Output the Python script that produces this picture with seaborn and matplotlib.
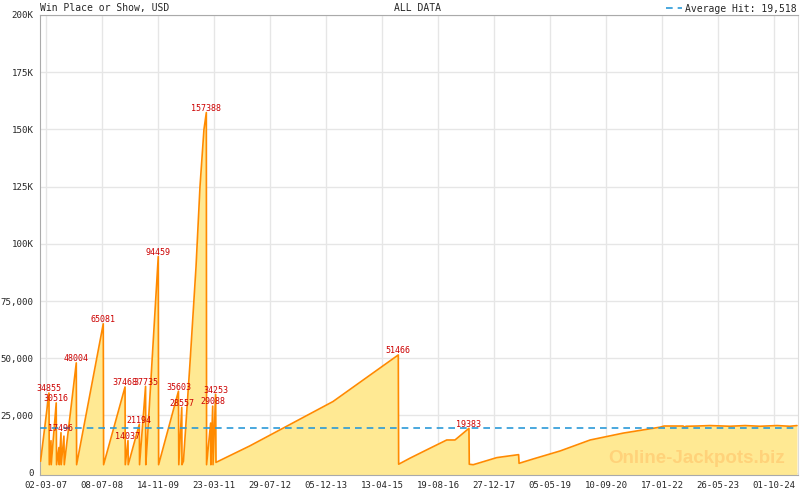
import pandas as pd
import matplotlib
matplotlib.use("Agg")
import matplotlib.pyplot as plt
import matplotlib.dates as mdates
import matplotlib.ticker as mticker
import seaborn as sns

# jackpot history (date, USD)
dates = [
    "2007-01-13", "2007-03-28", "2007-03-31", "2007-04-15", "2007-04-17",
    "2007-05-31", "2007-06-03", "2007-06-24", "2007-06-27", "2007-07-12",
    "2007-07-14", "2007-08-07", "2007-08-10", "2007-11-24", "2007-11-27",
    "2008-07-19", "2008-07-22", "2009-01-27", "2009-01-29", "2009-02-22",
    "2009-02-24", "2009-06-02", "2009-06-04", "2009-07-27", "2009-07-29",
    "2009-08-09", "2009-11-16", "2009-11-19", "2010-05-13", "2010-05-16",
    "2010-06-11", "2010-06-13", "2010-06-26", "2010-08-23", "2010-10-15",
    "2010-11-19", "2010-12-24", "2011-01-14", "2011-01-16", "2011-02-21",
    "2011-02-23", "2011-03-11", "2011-03-14", "2011-04-06", "2011-04-09",
    "2012-02-01", "2014-02-04", "2015-09-03", "2015-09-06", "2015-12-13",
    "2016-05-11", "2016-11-03", "2017-01-15", "2017-05-18", "2017-05-21",
    "2017-06-25", "2018-01-19", "2018-07-30", "2018-08-03", "2018-12-05",
    "2019-07-31", "2020-04-21", "2021-02-06", "2021-12-29", "2022-02-02",
    "2022-07-20", "2022-07-29", "2022-08-16", "2022-11-20", "2023-03-15",
    "2023-09-07", "2024-01-17", "2024-05-28", "2024-10-25", "2025-02-16",
    "2025-04-19",
]
amounts = [
    5000, 34855, 3500, 14000, 3500,
    30516, 3500, 11000, 3500, 17496,
    3500, 16000, 3500, 48004, 3500,
    65081, 3500, 37468, 3500, 14037,
    3500, 21194, 3500, 37735, 3500,
    12000, 94459, 3500, 35603, 3500,
    28557, 3500, 5000, 48000, 90000,
    125000, 150000, 157388, 3500, 21700,
    3500, 29088, 3500, 34253, 4500,
    11700, 31100, 51466, 3700, 6300,
    10000, 14300, 14300, 19383, 3700,
    3500, 6600, 7900, 4100, 6000,
    9500, 14300, 17300, 19900, 20400,
    20400, 20000, 20300, 20400, 20600,
    20300, 20600, 20300, 20600, 20300,
    20600,
]

# labelled hits
peak_dates = [
    "2007-03-28", "2007-05-31", "2007-07-12", "2007-11-24", "2008-07-19",
    "2009-01-27", "2009-02-22", "2009-06-02", "2009-07-27", "2009-11-16",
    "2010-05-13", "2010-06-11", "2011-01-14", "2011-03-11", "2011-04-06",
    "2015-09-03", "2017-05-18",
]
peak_amounts = [
    34855, 30516, 17496, 48004, 65081,
    37468, 14037, 21194, 37735, 94459,
    35603, 28557, 157388, 29088, 34253,
    51466, 19383,
]

avg_hit = 19518
tick_dates = [
    "2007-03-02", "2008-07-08", "2009-11-14", "2011-03-23", "2012-07-29",
    "2013-12-05", "2015-04-13", "2016-08-19", "2017-12-27", "2019-05-05",
    "2020-09-10", "2022-01-17", "2023-05-26", "2024-10-01",
]

df = pd.DataFrame({"date": pd.to_datetime(dates), "amount": amounts})
peaks = pd.DataFrame({"date": pd.to_datetime(peak_dates), "amount": peak_amounts})

sns.set_style("whitegrid", {"grid.color": "#e6e6e6", "axes.edgecolor": "#aaaaaa"})
mono = "DejaVu Sans Mono"
plt.rcParams["font.family"] = [mono]

fig = plt.figure(figsize=(8, 4.9), dpi=100)
ax = fig.add_axes([40 / 800, 15 / 490, 758 / 800, 460 / 490])

fill_col = "#ffe993"
line_col = "#ff8a00"
ax.fill_between(df["date"], df["amount"], -1000, color=fill_col, lw=0, zorder=1)
sns.lineplot(data=df, x="date", y="amount", estimator=None, sort=False,
             color=line_col, lw=1.2, ax=ax, zorder=3)

ax.axhline(avg_hit, color="#2b9ad8", lw=1.2, ls=(0, (4, 3)), zorder=4,
           label=f"Average Hit: {avg_hit:,}")

for d, v in zip(peaks["date"], peaks["amount"]):
    ax.annotate(str(v), (d, v), xytext=(0, 3), textcoords="offset points",
                ha="center", va="center", color="#cc0000", fontsize=6,
                family=mono, zorder=6)

ax.set_xlim(pd.Timestamp("2007-01-08"), pd.Timestamp("2025-04-28"))
ax.set_ylim(-1000, 200000)

ax.yaxis.set_major_locator(mticker.MultipleLocator(25000))
ax.yaxis.set_major_formatter(mticker.FuncFormatter(
    lambda v, p: f"{int(v / 1000)}K" if v >= 100000 else f"{int(v):,}"))

majors = mdates.date2num(pd.to_datetime(tick_dates))
step = (majors[-1] - majors[0]) / (len(majors) - 1)
minors = [majors[0] + step * k / 5 for k in range(1, (len(majors) - 1) * 5 + 3)]
ax.xaxis.set_major_locator(mticker.FixedLocator(majors))
ax.xaxis.set_minor_locator(mticker.FixedLocator(minors))
ax.xaxis.set_major_formatter(mdates.DateFormatter("%d-%m-%y"))

ax.tick_params(axis="x", which="major", direction="inout", length=6, width=1,
               color="#aaaaaa", labelsize=6.5, pad=1)
ax.tick_params(axis="x", which="minor", direction="in", length=5, width=1,
               color="#aaaaaa")
ax.tick_params(axis="y", direction="inout", length=7, width=1,
               color="#aaaaaa", labelsize=6.6, pad=1)
ax.set_xlabel("")
ax.set_ylabel("")
ax.grid(True, which="major", color="#e6e6e6", lw=1)
ax.set_axisbelow(True)
for s in ["left", "bottom", "top"]:
    ax.spines[s].set_color("#aaaaaa")
ax.spines["right"].set_color("#dddddd")

leg = ax.legend(loc="lower right", bbox_to_anchor=(1.0, 1.0), frameon=False,
                handlelength=1.6, handletextpad=0.3, borderpad=0,
                borderaxespad=0.15, prop={"family": mono, "size": 7})

fig.text(40 / 800, 1 - 8 / 490, "Win Place or Show, USD", ha="left",
         va="center", fontsize=7, family=mono)
fig.text(418 / 800, 1 - 8 / 490, "ALL DATA", ha="center", va="center",
         fontsize=7, family=mono)
fig.text(697 / 800, 1 - 458 / 490, "Online-Jackpots.biz", ha="center",
         va="center", fontsize=13.5, fontweight="bold", color="#ffd27a",
         family="Liberation Sans", zorder=2)

fig.savefig("out.png", dpi=100)
